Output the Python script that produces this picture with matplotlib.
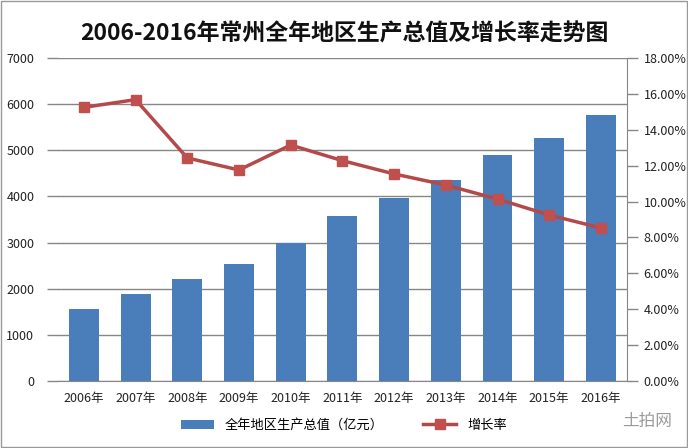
import matplotlib.pyplot as plt
from matplotlib.ticker import FuncFormatter

plt.rcParams['font.family'] = ['Noto Sans CJK SC', 'DejaVu Sans']

years = ['2006年', '2007年', '2008年', '2009年', '2010年', '2011年',
         '2012年', '2013年', '2014年', '2015年', '2016年']
gdp = [1560, 1885, 2210, 2535, 3000, 3580, 3970, 4360, 4900, 5270, 5775]
growth = [15.25, 15.68, 12.43, 11.76, 13.15, 12.28, 11.54, 10.92, 10.14, 9.25, 8.53]

bar_color = '#4A7EBB'
line_color = '#B5494A'
axis_gray = '#868686'

fig = plt.figure(figsize=(6.88, 4.48), dpi=100)
ax = fig.add_axes([0.0843, 0.1496, 0.8267, 0.7209])
x = list(range(len(years)))

ax.bar(x, gdp, width=0.58, color=bar_color, zorder=2, label='全年地区生产总值（亿元）')
ax.set_ylim(0, 7000)
ax.set_yticks(range(0, 7001, 1000))
ax.set_xlim(-0.5, len(years) - 0.5)
ax.set_xticks(x)
ax.set_xticklabels(years)
ax.yaxis.grid(True, color=axis_gray, linewidth=1, zorder=0)
ax.tick_params(axis='x', length=0, labelsize=9, pad=8, colors='#222222')
ax.tick_params(axis='y', length=8, width=1, color=axis_gray, labelsize=9, pad=9, labelcolor='#222222')
for s in ['top', 'left', 'right']:
    ax.spines[s].set_visible(False)
ax.spines['bottom'].set_color(axis_gray)

ax2 = ax.twinx()
ax2.plot(x, growth, color=line_color, linewidth=2.5, marker='s', markersize=7,
         markerfacecolor='#C0504D', markeredgecolor='#C0504D', zorder=3, label='增长率')
ax2.set_ylim(0, 18)
ax2.set_yticks(range(0, 19, 2))
ax2.yaxis.set_major_formatter(FuncFormatter(lambda v, p: f'{v:.2f}%'))
ax2.tick_params(axis='y', length=8, width=1, color=axis_gray, labelsize=9, pad=4, labelcolor='#222222')
for s in ['top', 'left', 'bottom']:
    ax2.spines[s].set_visible(False)
ax2.spines['right'].set_color(axis_gray)

fig.text(0.5, 0.925, '2006-2016年常州全年地区生产总值及增长率走势图',
         ha='center', va='center', fontsize=16.5, fontweight='bold', color='#111111')

h1, l1 = ax.get_legend_handles_labels()
h2, l2 = ax2.get_legend_handles_labels()
fig.legend(h1 + h2, l1 + l2, loc='center', bbox_to_anchor=(0.5, 0.05), ncol=2,
           frameon=False, fontsize=9.5, handlelength=2.5, columnspacing=3)

fig.text(0.94, 0.06, '土拍网', ha='center', va='center', fontsize=12, color='#9a9a9a')

border = plt.Rectangle((0.002, 0.002), 0.996, 0.996, transform=fig.transFigure,
                       fill=False, edgecolor='#999999', linewidth=1)
fig.patches.append(border)

fig.savefig('out.png', dpi=100)
